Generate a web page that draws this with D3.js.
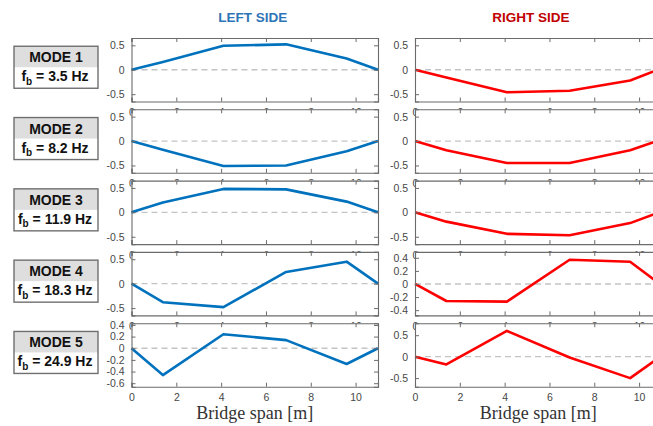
<!DOCTYPE html>
<html>
<head>
<meta charset="utf-8">
<script src="https://cdn.jsdelivr.net/npm/d3@7"></script>
<style>
  body { margin: 0; background: #fff; }
  svg { display: block; }
</style>
</head>
<body>
<svg id="chart" width="653" height="426"></svg>
<script>
// sensor positions along the bridge [m]
const spanX = [0, 1.4, 4.1, 6.9, 9.6, 11];
const xTicks = [0, 2, 4, 6, 8, 10];

const modeNames = ["MODE 1", "MODE 2", "MODE 3", "MODE 4", "MODE 5"];
const modeFreqs = ["3.5", "8.2", "11.9", "18.3", "24.9"];

const leftShapes = [
  [0, 0.16, 0.49, 0.52, 0.23, 0],
  [0, -0.18, -0.51, -0.5, -0.21, 0],
  [0, 0.2, 0.48, 0.47, 0.22, 0],
  [0, -0.38, -0.48, 0.24, 0.45, 0],
  [0, -0.46, 0.24, 0.14, -0.27, 0]
];
const rightShapes = [
  [0, -0.16, -0.46, -0.43, -0.22, 0.03],
  [0, -0.19, -0.45, -0.45, -0.19, 0.03],
  [0, -0.19, -0.44, -0.47, -0.22, 0.02],
  [0, -0.26, -0.27, 0.37, 0.34, -0.02],
  [0, -0.18, 0.6, -0.02, -0.5, 0.02]
];

const leftYLim = [[-0.65, 0.65], [-0.65, 0.65], [-0.65, 0.65], [-0.65, 0.65], [-0.66, 0.43]];
const rightYLim = [[-0.65, 0.65], [-0.65, 0.65], [-0.65, 0.65], [-0.48, 0.49], [-0.7, 0.78]];
const leftYTicks = [[-0.5, 0, 0.5], [-0.5, 0, 0.5], [-0.5, 0, 0.5], [-0.5, 0, 0.5], [-0.6, -0.4, -0.2, 0, 0.2, 0.4]];
const rightYTicks = [[-0.5, 0, 0.5], [-0.5, 0, 0.5], [-0.5, 0, 0.5], [-0.4, -0.2, 0, 0.2, 0.4], [-0.5, 0, 0.5]];

const svg = d3.select("#chart");
const panelW = 246.5;
const panelH = 63.5;
const rowStep = 71.3;
const firstTop = 38;
const leftX0 = 131.5;
const rightX0 = 415;
const axisColor = "#6b6b6b";
const tickTextColor = "#474747";
const fmt = (d) => (d === 0 ? "0" : String(d));

// column titles
svg.append("text")
  .attr("x", leftX0 + panelW / 2 - 2).attr("y", 22)
  .attr("text-anchor", "middle")
  .style("font", "bold 13.5px 'Liberation Sans', Arial, sans-serif")
  .attr("fill", "#2e75b6")
  .text("LEFT SIDE");
svg.append("text")
  .attr("x", 531).attr("y", 22)
  .attr("text-anchor", "middle")
  .style("font", "bold 13.5px 'Liberation Sans', Arial, sans-serif")
  .attr("fill", "#c00000")
  .text("RIGHT SIDE");

for (let i = 0; i < modeNames.length; i += 1) {
  const top = firstTop + i * rowStep;
  drawPanel(leftX0, top, leftShapes[i], leftYLim[i], leftYTicks[i], "#0072bd");
  drawPanel(rightX0, top, rightShapes[i], rightYLim[i], rightYTicks[i], "#ff0000");
  drawModeBox(top + panelH / 2 - 2.5, modeNames[i], modeFreqs[i]);
}

// x axis titles
[leftX0, rightX0].forEach((x0) => {
  svg.append("text")
    .attr("x", x0 + panelW / 2).attr("y", 419)
    .attr("text-anchor", "middle")
    .style("font", "18px 'Liberation Serif', 'Times New Roman', serif")
    .attr("fill", "#333")
    .text("Bridge span [m]");
});

function drawPanel(x0, top, values, yLim, yTicks, color) {
  const x = d3.scaleLinear().domain([0, 11]).range([x0, x0 + panelW]);
  const y = d3.scaleLinear().domain(yLim).range([top + panelH, top]);
  const g = svg.append("g");

  g.append("rect")
    .attr("x", x0).attr("y", top)
    .attr("width", panelW).attr("height", panelH)
    .attr("fill", "#fff");

  // dashed zero reference
  g.append("line")
    .attr("x1", x(0)).attr("x2", x(11))
    .attr("y1", y(0)).attr("y2", y(0))
    .attr("stroke", "#c4c4c4").attr("stroke-width", 1.3)
    .attr("stroke-dasharray", "6,4");

  g.append("path")
    .datum(values)
    .attr("fill", "none")
    .attr("stroke", color)
    .attr("stroke-width", 2.6)
    .attr("stroke-linejoin", "round")
    .attr("d", d3.line().x((d, j) => x(spanX[j])).y((d) => y(d)));

  // matlab-like box with inward ticks
  const xAxisB = d3.axisBottom(x).tickValues(xTicks).tickSize(-4).tickPadding(7).tickFormat(fmt);
  const xAxisT = d3.axisTop(x).tickValues(xTicks).tickSize(-4).tickFormat("");
  const yAxisL = d3.axisLeft(y).tickValues(yTicks).tickSize(-4).tickPadding(7).tickFormat(fmt);
  const yAxisR = d3.axisRight(y).tickValues(yTicks).tickSize(-4).tickFormat("");

  const axes = [
    g.append("g").attr("transform", `translate(0,${top + panelH})`).call(xAxisB),
    g.append("g").attr("transform", `translate(0,${top})`).call(xAxisT),
    g.append("g").attr("transform", `translate(${x0},0)`).call(yAxisL),
    g.append("g").attr("transform", `translate(${x0 + panelW},0)`).call(yAxisR)
  ];
  axes.forEach((a) => {
    a.select(".domain").attr("stroke", axisColor).attr("stroke-width", 1.1);
    a.selectAll(".tick line").attr("stroke", axisColor);
    a.selectAll("text")
      .attr("fill", tickTextColor)
      .style("font", "10.5px 'Liberation Sans', Arial, sans-serif");
  });
}

function drawModeBox(cy, name, freq) {
  const bx = 14;
  const bw = 84;
  const bh = 42;
  const by = cy - bh / 2;
  const g = svg.append("g");
  g.append("rect")
    .attr("x", bx).attr("y", by).attr("width", bw).attr("height", bh / 2)
    .attr("fill", "#dedede");
  g.append("rect")
    .attr("x", bx).attr("y", by).attr("width", bw).attr("height", bh)
    .attr("fill", "none").attr("stroke", "#6f6f6f").attr("stroke-width", 1.4);
  g.append("text")
    .attr("x", bx + bw / 2).attr("y", by + 16)
    .attr("text-anchor", "middle")
    .style("font", "bold 14px 'Liberation Sans', Arial, sans-serif")
    .attr("fill", "#111")
    .text(name);
  const t = g.append("text")
    .attr("x", bx + bw / 2 - 1).attr("y", by + 35)
    .attr("text-anchor", "middle")
    .style("font", "bold 14px 'Liberation Sans', Arial, sans-serif")
    .attr("fill", "#111");
  t.append("tspan").text("f");
  t.append("tspan").attr("dy", 3.5).style("font-size", "10px").text("b");
  t.append("tspan").attr("dy", -3.5).text(` = ${freq} Hz`);
}
</script>
</body>
</html>
